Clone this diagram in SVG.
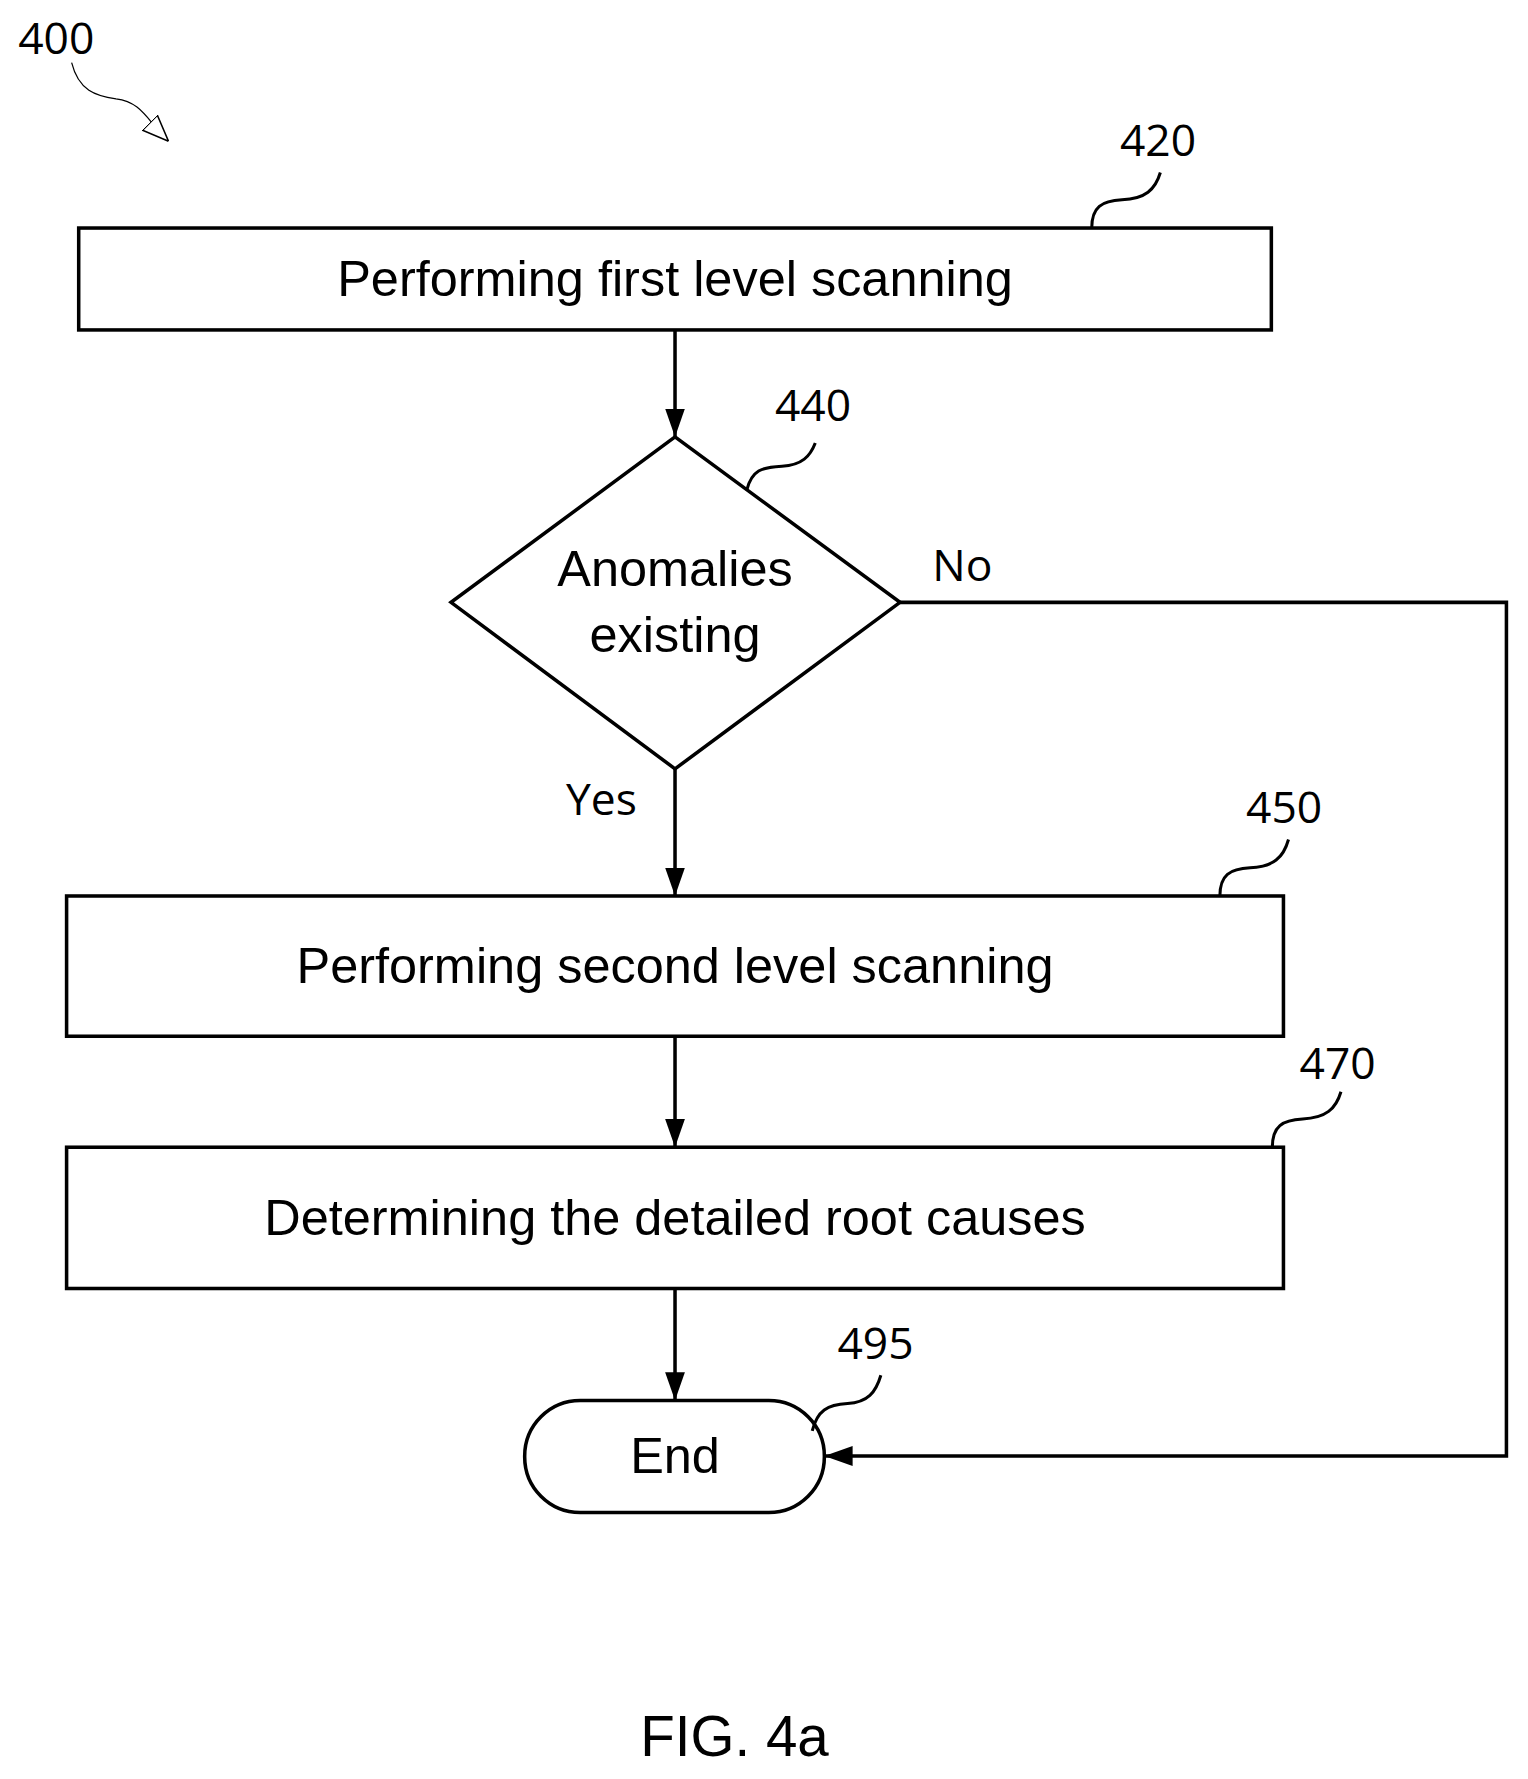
<svg xmlns="http://www.w3.org/2000/svg" width="1528" height="1779" viewBox="0 0 1528 1779">
<defs>
<marker id="ah2" viewBox="0 0 10 10" refX="10" refY="5" markerWidth="28" markerHeight="28" markerUnits="userSpaceOnUse" orient="auto"><path d="M0,1.5 L10,5 L0,8.5 z" fill="#000"/></marker>
<marker id="ho" viewBox="0 0 10 10" refX="10" refY="5" markerWidth="26" markerHeight="26" markerUnits="userSpaceOnUse" orient="auto"><path d="M0,1 L10,5 L0,9 z" fill="#fff" stroke="#000" stroke-width="0.6"/></marker>
<style>
.b{fill:#fff;stroke:#000;stroke-width:3.5}
.t{font-family:"Liberation Sans",Arial,sans-serif;font-size:50px;text-anchor:middle;fill:#000}
.n{font-family:"Open Sans","Liberation Sans",sans-serif;font-size:44px;fill:#000}
.l{fill:none;stroke:#000;stroke-width:3.5}
.q{fill:none;stroke:#000;stroke-width:3}
</style>
</defs>
<rect width="1528" height="1779" fill="#fff"/>
<g transform="scale(1.009)">
<g id="label400"><text class="n" x="18" y="54">400</text><path d="M71,62 C78,90 95,95 115,98 C140,101 145,118 167,140" fill="none" stroke="#000" stroke-width="1.2" marker-end="url(#ho)"/></g>
<g id="connectors">
<path class="l" d="M669,327 V433" marker-end="url(#ah2)"/>
<path class="l" d="M669,762 V888" marker-end="url(#ah2)"/>
<path class="l" d="M669,1027 V1137" marker-end="url(#ah2)"/>
<path class="l" d="M669,1277 V1388" marker-end="url(#ah2)"/>
<path class="l" d="M892,597 H1493 V1443 H817" marker-end="url(#ah2)"/>
<text class="n" x="924" y="576">No</text>
<text class="n" x="561" y="808">Yes</text>
</g>
<g id="n420"><rect class="b" x="78" y="226" width="1182" height="101"/><text class="t" x="669" y="293">Performing first level scanning</text><path class="q" d="M1082,226 C1082,205 1092,199 1112,198 C1135,197 1145,188 1150,171"/><text class="n" x="1110" y="155">420</text></g>
<g id="n440"><polygon class="b" points="669,433 892,597 669,762 447,597"/><text class="t" x="669" y="581">Anomalies</text><text class="t" x="669" y="646">existing</text><path class="q" d="M740,486 C745,466 755,463 775,462 C795,461 803,452 808,439"/><text class="n" x="768" y="417">440</text></g>
<g id="n450"><rect class="b" x="66" y="888" width="1206" height="139"/><text class="t" x="669" y="974">Performing second level scanning</text><path class="q" d="M1209,888 C1209,867 1219,861 1239,860 C1262,859 1272,850 1277,832"/><text class="n" x="1235" y="816">450</text></g>
<g id="n470"><rect class="b" x="66" y="1137" width="1206" height="140"/><text class="t" x="669" y="1224">Determining the detailed root causes</text><path class="q" d="M1261,1137 C1261,1116 1271,1110 1291,1109 C1314,1108 1324,1099 1329,1082"/><text class="n" x="1288" y="1069">470</text></g>
<g id="n495"><rect class="b" x="520" y="1388" width="297" height="111" rx="55" ry="55"/><text class="t" x="669" y="1460">End</text><path class="q" d="M805,1418 C810,1398 820,1392 840,1391 C860,1390 868,1380 873,1363"/><text class="n" x="830" y="1347">495</text></g>
<text x="728" y="1740" style="font-family:'Liberation Sans',Arial,sans-serif;font-size:56px;text-anchor:middle">FIG. 4a</text>
</g>
</svg>
